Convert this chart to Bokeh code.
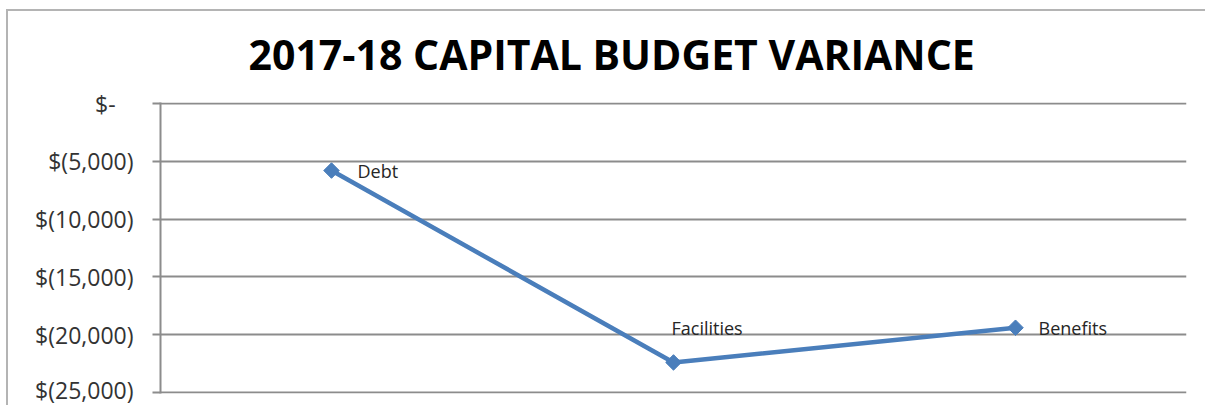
import math
from bokeh.plotting import figure
from bokeh.models import FactorRange, Range1d, FixedTicker, CustomJSTickFormatter, ColumnDataSource
from bokeh.core.properties import value
from bokeh.embed import file_html
from bokeh.resources import INLINE

# data
categories = ["Debt", "Facilities", "Benefits"]
variance = [-5800, -22400, -19400]
y_ticks = [0, -5000, -10000, -15000, -20000, -25000]
title_text = "2017-18 CAPITAL BUDGET VARIANCE"

# label styling (screen offsets)
label_dx = [26, -2, 23]
label_dy = [0, -34, 0]

LINE = "#4a7ebb"
GRID = "#8c8c8c"
FRAME = "#b4b4b4"

p = figure(width=1205, height=405, output_backend="svg", toolbar_location=None,
           x_range=FactorRange(*categories), y_range=Range1d(-25087, 87),
           min_border_left=160, min_border_right=19, min_border_top=102, min_border_bottom=12,
           title=title_text)
# outer chart frame (top and left edges), drawn behind a transparent canvas border
p.styles = {
    "background": (f"linear-gradient({FRAME},{FRAME}) 6px 9px / 100% 2px no-repeat, "
                   f"linear-gradient({FRAME},{FRAME}) 6px 9px / 2px 100% no-repeat, white"),
}
p.border_fill_alpha = 0
p.background_fill_color = "white"

p.title.text_font = "Open Sans"
p.title.text_font_style = "bold"
p.title.text_font_size = "41px"
p.title.text_color = "#000000"
p.title.align = "left"
p.title.offset = 88
p.title.standoff = 42

p.outline_line_color = None

p.xaxis.visible = False
p.xgrid.visible = False
p.ygrid.grid_line_color = GRID
p.ygrid.grid_line_width = 2

ya = p.yaxis[0]
ya.ticker = FixedTicker(ticks=y_ticks)
ya.formatter = CustomJSTickFormatter(code="""
if (tick == 0) { return "$-\u00a0\u00a0\u00a0"; }
const a = Math.abs(tick).toLocaleString("en-US");
return "$(" + a + ")";
""")
ya.axis_line_color = GRID
ya.axis_line_width = 2
ya.major_tick_line_color = GRID
ya.major_tick_line_width = 2
ya.major_tick_out = 8
ya.major_tick_in = 0
ya.minor_tick_line_color = None
ya.major_label_text_font = "Open Sans"
ya.major_label_text_font_size = "23px"
ya.major_label_text_color = "#333333"
ya.major_label_standoff = 19

src = ColumnDataSource(dict(x=categories, y=variance, dx=label_dx, dy=label_dy))
p.line(x="x", y="y", source=src, line_color=LINE, line_width=4.5)
p.scatter(x="x", y="y", source=src, marker="square", angle=math.pi / 4, size=11,
          fill_color=LINE, line_color=LINE)
p.text(x="x", y="y", text="x", source=src, x_offset="dx", y_offset="dy",
       text_font=value("Open Sans"), text_font_size="18px", text_color="#262626",
       text_baseline="middle", text_align="left")

open("out.html", "w").write(file_html(p, INLINE))
